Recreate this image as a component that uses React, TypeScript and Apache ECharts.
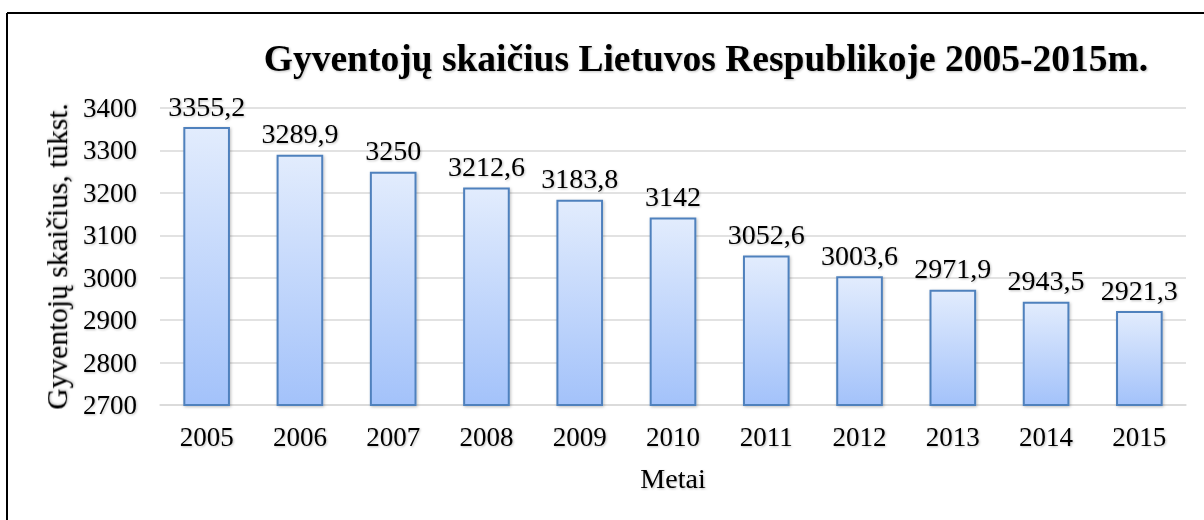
import React, { useEffect, useRef } from "react";
import * as echarts from "echarts";

const years = ["2005", "2006", "2007", "2008", "2009", "2010", "2011", "2012", "2013", "2014", "2015"];
const population = [3355.2, 3289.9, 3250, 3212.6, 3183.8, 3142, 3052.6, 3003.6, 2971.9, 2943.5, 2921.3];
const titleText = "Gyventojų skaičius Lietuvos Respublikoje 2005-2015m.";
const yAxisName = "Gyventojų skaičius, tūkst.";
const xAxisName = "Metai";

const FONT = "'Liberation Serif', 'Times New Roman', serif";
const shadowText = {
  textShadowColor: "rgba(0,0,0,0.25)",
  textShadowBlur: 2,
  textShadowOffsetX: 1,
  textShadowOffsetY: 1,
};

export default function App() {
  const ref = useRef<HTMLDivElement>(null);
  useEffect(() => {
    if (!ref.current) return;
    const chart = echarts.init(ref.current, undefined, { renderer: "svg" });
    chart.setOption({
      animation: false,
      backgroundColor: "#ffffff",
      title: {
        text: titleText,
        left: 701,
        textAlign: "center",
        top: 34,
        textStyle: {
          fontFamily: FONT,
          fontSize: 37.5,
          fontWeight: "bold",
          color: "#000",
          ...shadowText,
        },
      },
      graphic: [
        { type: "line", shape: { x1: 7, y1: 13, x2: 1204, y2: 13 }, style: { stroke: "#000", lineWidth: 2 } },
        { type: "line", shape: { x1: 7, y1: 13, x2: 7, y2: 520 }, style: { stroke: "#000", lineWidth: 2 } },
      ],
      grid: { left: 160, right: 18, top: 108, bottom: 115 },
      xAxis: {
        type: "category",
        data: years,
        name: xAxisName,
        nameLocation: "middle",
        nameGap: 59,
        nameTextStyle: { fontFamily: FONT, fontSize: 28, color: "#000", ...shadowText },
        axisLine: { lineStyle: { color: "#d9d9d9", width: 1.5 } },
        axisTick: { show: false },
        axisLabel: { fontFamily: FONT, fontSize: 27, color: "#000", margin: 18, ...shadowText },
      },
      yAxis: {
        type: "value",
        min: 2700,
        max: 3400,
        interval: 100,
        name: yAxisName,
        nameLocation: "middle",
        nameGap: 87,
        nameTextStyle: { fontFamily: FONT, fontSize: 29.5, color: "#000", ...shadowText },
        axisLine: { show: false },
        axisTick: { show: false },
        axisLabel: {
          fontFamily: FONT,
          fontSize: 27,
          color: "#000",
          margin: 23,
          formatter: (v: number) => String(v),
          ...shadowText,
        },
        splitLine: { lineStyle: { color: "#d9d9d9", width: 1.5 } },
      },
      series: [
        {
          type: "bar",
          data: population,
          barWidth: "50%",
          itemStyle: {
            color: new echarts.graphic.LinearGradient(0, 0, 0, 1, [
              { offset: 0, color: "#e2ecfd" },
              { offset: 1, color: "#a3c2fa" },
            ]),
            borderColor: "#4f81bd",
            borderWidth: 2,
            shadowColor: "rgba(0,0,0,0.25)",
            shadowBlur: 3,
            shadowOffsetX: 1,
            shadowOffsetY: 1,
          },
          label: {
            show: true,
            position: "top",
            distance: 7,
            fontFamily: FONT,
            fontSize: 28,
            color: "#000",
            ...shadowText,
            formatter: (p: any) => String(p.value).replace(".", ","),
          },
        },
      ],
    });
    return () => chart.dispose();
  }, []);
  return (
    <div
      ref={ref}
      style={{ position: "fixed", left: 0, top: 0, width: 1204, height: 520 }}
    />
  );
}
